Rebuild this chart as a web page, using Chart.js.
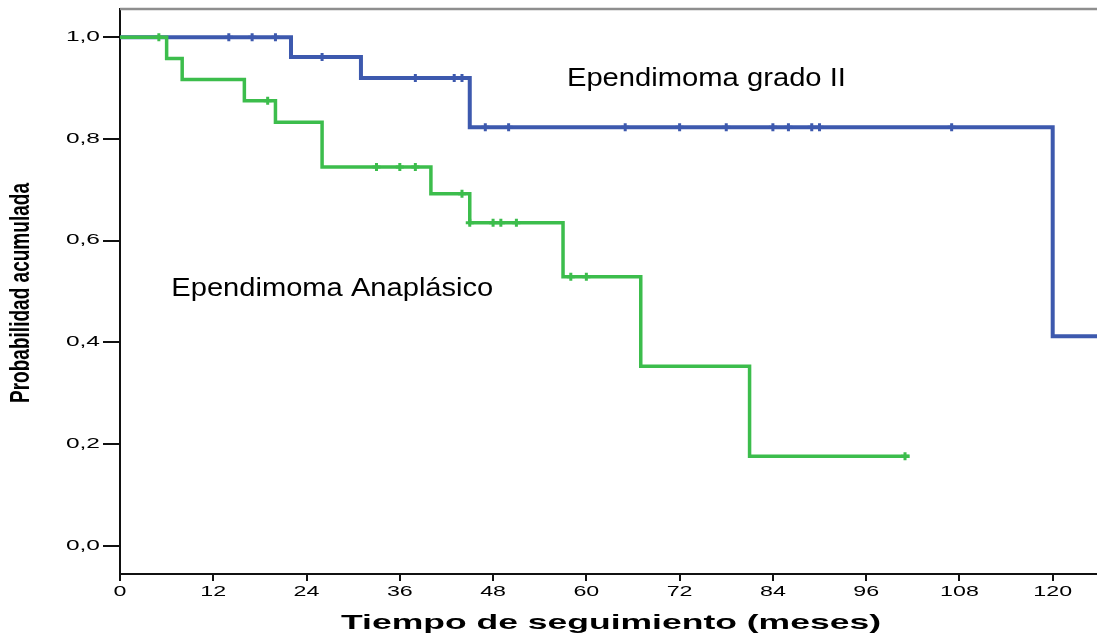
<!DOCTYPE html>
<html>
<head>
<meta charset="utf-8">
<script src="https://cdn.jsdelivr.net/npm/chart.js@4"></script>
<style>
  html, body { margin: 0; padding: 0; background: #fff; }
  #wrap { width: 1097px; height: 637px; }
</style>
</head>
<body>
<div id="wrap"><canvas id="chart" width="1097" height="637"></canvas></div>
<script>
// Kaplan-Meier steps (time in months, cumulative survival)
var gradoTimes = [0, 22, 31, 45, 120, 126];
var gradoSurv  = [1.0, 0.961, 0.920, 0.823, 0.412, 0.412];
var gradoCensTimes = [14, 17, 20, 26, 38, 43, 44, 47, 50, 65, 72, 78, 84, 86, 89, 90, 107];
var gradoCensSurv  = [1.0, 1.0, 1.0, 0.961, 0.920, 0.920, 0.920, 0.823, 0.823, 0.823, 0.823, 0.823, 0.823, 0.823, 0.823, 0.823, 0.823];

var anaTimes = [0, 6, 8, 16, 20, 26, 40, 45, 57, 67, 81, 101.6];
var anaSurv  = [1.0, 0.958, 0.917, 0.875, 0.833, 0.745, 0.692, 0.635, 0.529, 0.353, 0.176, 0.176];
var anaCensTimes = [5, 19, 33, 36, 38, 44, 45, 48, 49, 51, 58, 60, 101];
var anaCensSurv  = [1.0, 0.875, 0.745, 0.745, 0.745, 0.692, 0.635, 0.635, 0.635, 0.635, 0.529, 0.529, 0.176];

var xTicks = [0, 12, 24, 36, 48, 60, 72, 84, 96, 108, 120];
var yTicks = [0, 0.2, 0.4, 0.6, 0.8, 1.0];

var blue = '#3d59ae';
var green = '#3cbd4c';

function pts(xs, ys) {
    return xs.map(function (t, i) { return { x: t, y: ys[i] }; });
}

// draw text squeezed/stretched along its direction, like the SPSS export
function drawText(ctx, text, px, py, opts) {
    ctx.save();
    ctx.font = opts.font;
    ctx.translate(px, py);
    if (opts.rotate) ctx.rotate(opts.rotate);
    var sx = opts.width ? opts.width / ctx.measureText(text).width : (opts.stretch || 1);
    ctx.scale(sx, 1);
    ctx.fillStyle = '#000';
    ctx.textAlign = opts.align || 'center';
    ctx.textBaseline = 'middle';
    ctx.fillText(text, 0, 0);
    ctx.restore();
}

var labelsPlugin = {
    id: 'kmLabels',
    afterDraw: function (chart) {
        var ctx = chart.ctx, area = chart.chartArea;
        var x = chart.scales.x, y = chart.scales.y;

        // grey frame line on top
        ctx.save();
        ctx.strokeStyle = '#8e8e8e';
        ctx.lineWidth = 2.5;
        ctx.beginPath();
        ctx.moveTo(area.left, area.top);
        ctx.lineTo(area.right, area.top);
        ctx.stroke();
        ctx.restore();

        xTicks.forEach(function (v) {
            drawText(ctx, String(v), x.getPixelForValue(v), 592,
                { font: '15px "Liberation Sans"', stretch: 1.55 });
        });
        yTicks.forEach(function (v) {
            drawText(ctx, v.toFixed(1).replace('.', ','), 100, y.getPixelForValue(v),
                { font: '14px "Liberation Sans"', stretch: 1.75, align: 'right' });
        });

        drawText(ctx, 'Tiempo de seguimiento (meses)', 611, 623,
            { font: 'bold 21px "Liberation Sans"', width: 540 });
        drawText(ctx, 'Probabilidad acumulada', 21, 293,
            { font: 'bold 28px "Liberation Sans"', width: 220, rotate: -Math.PI / 2 });

        drawText(ctx, 'Ependimoma grado II', x.getPixelForValue(57.5), y.getPixelForValue(0.918),
            { font: '26px "Liberation Sans"', width: 279, align: 'left' });
        drawText(ctx, 'Ependimoma Anaplásico', x.getPixelForValue(6.6), y.getPixelForValue(0.505),
            { font: '26px "Liberation Sans"', width: 322, align: 'left' });
    }
};

var ctx = document.getElementById('chart').getContext('2d');
var chart = new Chart(ctx, {
    type: 'scatter',
    data: {
        datasets: [{
            label: 'Ependimoma Anaplásico (censurado)',
            data: pts(anaCensTimes, anaCensSurv),
            pointStyle: 'cross',
            pointRadius: 4,
            pointBorderWidth: 3,
            borderColor: green,
            backgroundColor: green,
            showLine: false
        }, {
            label: 'Ependimoma Anaplásico',
            data: pts(anaTimes, anaSurv),
            showLine: true,
            stepped: true,
            borderColor: green,
            borderWidth: 3.5,
            pointRadius: 0
        }, {
            label: 'Ependimoma grado II (censurado)',
            data: pts(gradoCensTimes, gradoCensSurv),
            pointStyle: 'cross',
            pointRadius: 4,
            pointBorderWidth: 3,
            borderColor: blue,
            backgroundColor: blue,
            showLine: false
        }, {
            label: 'Ependimoma grado II',
            data: pts(gradoTimes, gradoSurv),
            showLine: true,
            stepped: true,
            borderColor: blue,
            borderWidth: 4,
            pointRadius: 0
        }]
    },
    options: {
        responsive: false,
        devicePixelRatio: 1,
        animation: false,
        layout: { autoPadding: false, padding: { top: 9, right: 0, left: 0, bottom: 0 } },
        plugins: {
            legend: { display: false },
            tooltip: { enabled: false }
        },
        scales: {
            x: {
                type: 'linear',
                min: 0,
                max: 125.7,
                afterBuildTicks: function (s) { s.ticks = xTicks.map(function (v) { return { value: v }; }); },
                afterFit: function (s) { s.height = 63; },
                ticks: { display: false },
                grid: { drawOnChartArea: false, drawTicks: true, tickLength: 7, color: '#111', lineWidth: 2 },
                border: { display: true, color: '#111', width: 2 }
            },
            y: {
                type: 'linear',
                min: -0.0557,
                max: 1.0556,
                afterBuildTicks: function (s) { s.ticks = yTicks.map(function (v) { return { value: v }; }); },
                afterFit: function (s) { s.width = 120; },
                ticks: { display: false },
                grid: { drawOnChartArea: false, drawTicks: true, tickLength: 17, color: '#111', lineWidth: 2 },
                border: { display: true, color: '#111', width: 2 }
            }
        }
    },
    plugins: [labelsPlugin]
});
</script>
</body>
</html>
